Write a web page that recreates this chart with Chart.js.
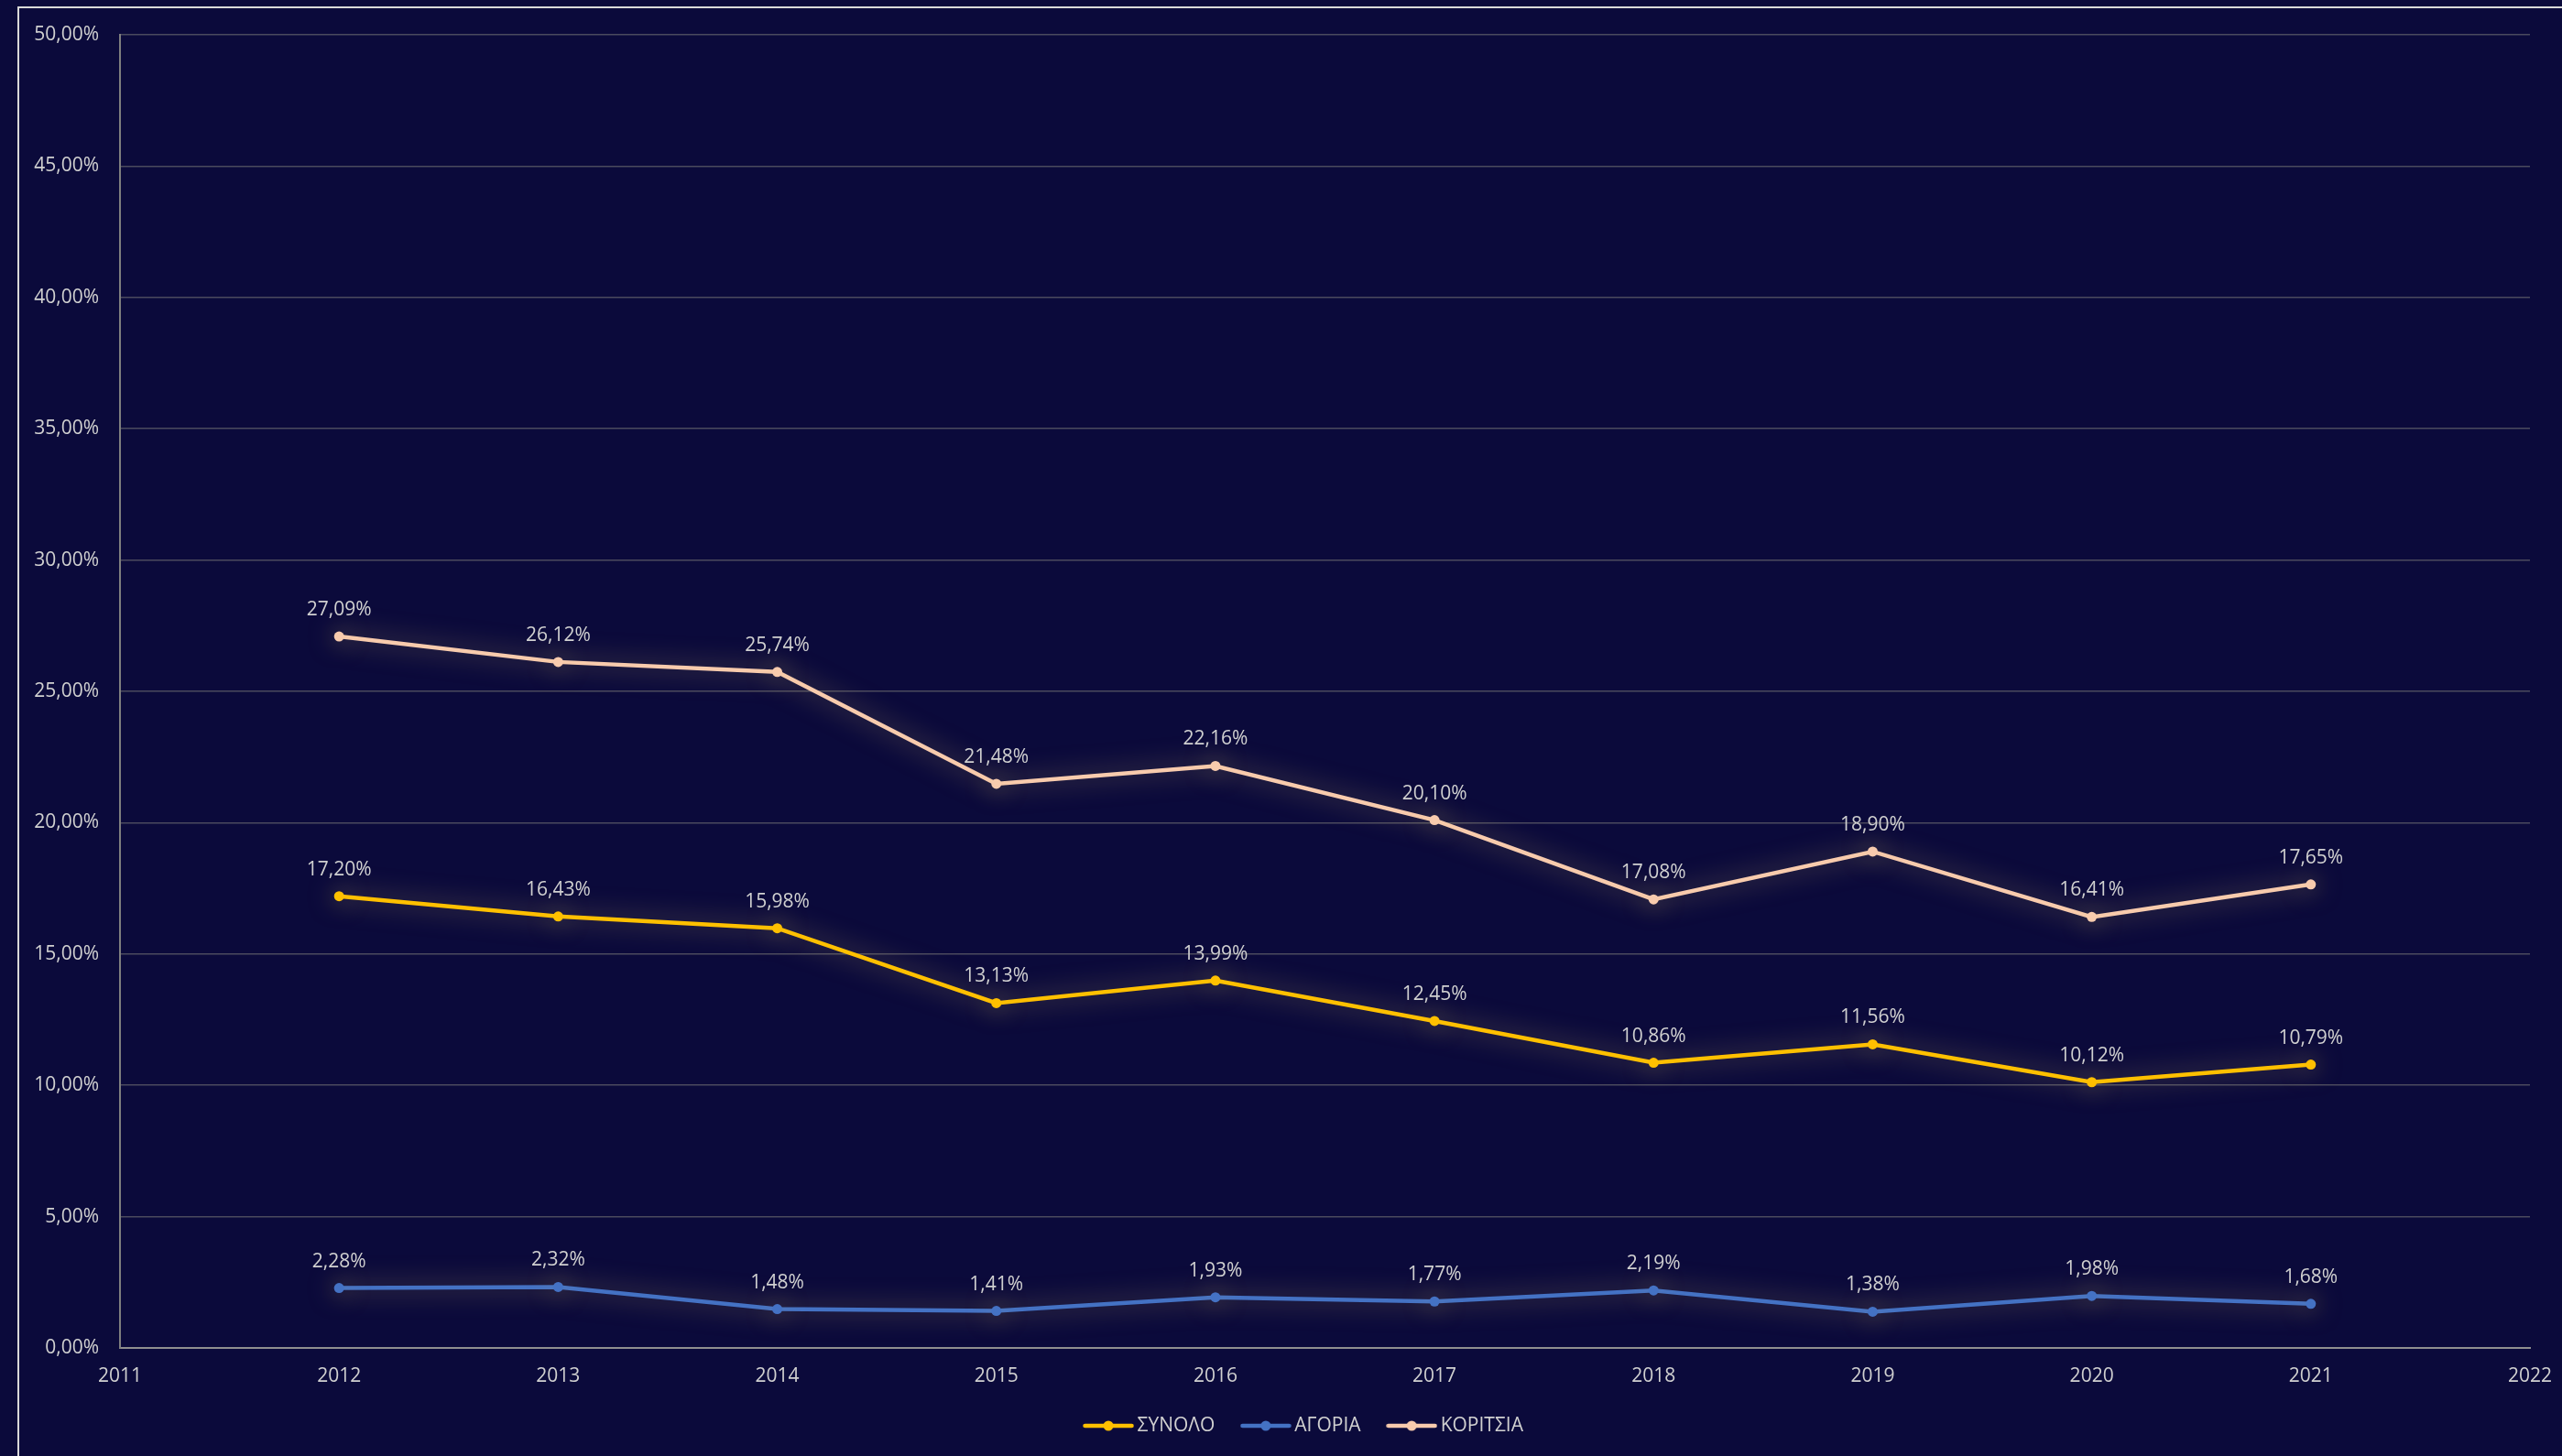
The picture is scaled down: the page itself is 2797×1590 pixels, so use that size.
<!DOCTYPE html>
<html>
<head>
<meta charset="utf-8">
<script src="https://cdn.jsdelivr.net/npm/chart.js@4.4.1/dist/chart.umd.min.js"></script>
<style>
html,body{margin:0;padding:0;background:#0b0a3b;overflow:hidden;width:2797px;height:1590px;}
#wrap{position:absolute;left:0;top:0;width:2797px;height:1590px;}
#frame{position:absolute;left:19px;top:7px;width:2820px;height:1620px;border-left:2px solid #d9d9d9;border-top:2px solid #d9d9d9;pointer-events:none;}
</style>
</head>
<body>
<div id="wrap"><canvas id="c" width="2797" height="1590"></canvas></div>
<div id="frame"></div>
<script>
// ---- data ----
const years = [2012, 2013, 2014, 2015, 2016, 2017, 2018, 2019, 2020, 2021];
const xMin = 2011;
const xMax = 2022;
const yMin = 0;
const yMax = 50;
const yStep = 5;
const seriesNames = ['ΣΥΝΟΛΟ', 'ΑΓΟΡΙΑ', 'ΚΟΡΙΤΣΙΑ'];
const synolo   = [17.20, 16.43, 15.98, 13.13, 13.99, 12.45, 10.86, 11.56, 10.12, 10.79];
const agoria   = [2.28, 2.32, 1.48, 1.41, 1.93, 1.77, 2.19, 1.38, 1.98, 1.68];
const koritsia = [27.09, 26.12, 25.74, 21.48, 22.16, 20.10, 17.08, 18.90, 16.41, 17.65];
const seriesColors = ['#FFC000', '#4472C4', '#F8CBAD'];

// ---- helpers ----
const FONT = '"Open Sans", "Noto Sans", sans-serif';
const TEXT = '#d0d0d0';
const LEGEND_SHIFT = 45; // the original chart frame extends past the right edge
function fmtPct(v) { return v.toFixed(2).replace('.', ',') + '%'; }
function toPoints(arr) { return arr.map((v, i) => ({ x: years[i], y: v })); }

function legendIcon(color) {
  const c = document.createElement('canvas');
  c.width = 56; c.height = 14;
  const g = c.getContext('2d');
  g.strokeStyle = color; g.lineWidth = 4.5; g.lineCap = 'round';
  g.beginPath(); g.moveTo(2.5, 7); g.lineTo(53.5, 7); g.stroke();
  g.fillStyle = color;
  g.beginPath(); g.arc(28, 7, 5.5, 0, Math.PI * 2); g.fill();
  return c;
}

const glowPlugin = {
  id: 'glow',
  beforeDatasetDraw(chart) {
    const ctx = chart.ctx;
    ctx.save();
    ctx.shadowColor = 'rgba(225, 195, 110, 0.62)';
    ctx.shadowBlur = 28;
  },
  afterDatasetDraw(chart) { chart.ctx.restore(); }
};

const legendShift = {
  id: 'legendShift',
  afterLayout(chart) {
    if (chart.legend) {
      chart.legend.left += LEGEND_SHIFT;
      chart.legend.right += LEGEND_SHIFT;
    }
  }
};

const valueLabels = {
  id: 'valueLabels',
  afterDatasetsDraw(chart) {
    const ctx = chart.ctx;
    ctx.save();
    ctx.font = '21px ' + FONT;
    ctx.fillStyle = TEXT;
    ctx.textAlign = 'center';
    ctx.textBaseline = 'middle';
    chart.data.datasets.forEach((ds, i) => {
      const meta = chart.getDatasetMeta(i);
      meta.data.forEach((pt, j) => {
        ctx.fillText(fmtPct(ds.data[j].y), pt.x, pt.y - 29);
      });
    });
    ctx.restore();
  }
};

const seriesData = [synolo, agoria, koritsia];
const datasets = seriesNames.map((name, i) => ({
  label: name,
  data: toPoints(seriesData[i]),
  borderColor: seriesColors[i],
  backgroundColor: seriesColors[i],
  borderWidth: 4.5,
  pointRadius: 5.5,
  pointHoverRadius: 5.5,
  pointBorderWidth: 0,
  pointBackgroundColor: seriesColors[i],
  tension: 0,
  fill: false
}));

new Chart(document.getElementById('c'), {
  type: 'line',
  data: { datasets },
  plugins: [glowPlugin, valueLabels, legendShift],
  options: {
    responsive: false,
    animation: false,
    devicePixelRatio: 1,
    layout: { padding: { left: 0, top: 38, right: 35, bottom: 12.5 } },
    plugins: {
      tooltip: { enabled: false },
      legend: {
        position: 'bottom',
        labels: {
          color: TEXT,
          font: { family: FONT, size: 21 },
          usePointStyle: true,
          pointStyleWidth: 42,
          padding: 34.5,
          generateLabels(chart) {
            return chart.data.datasets.map((ds, i) => ({
              text: ds.label,
              fontColor: TEXT,
              pointStyle: legendIcon(seriesColors[i]),
              datasetIndex: i,
              hidden: false,
              lineWidth: 0,
              strokeStyle: 'transparent',
              fillStyle: 'transparent'
            }));
          }
        }
      }
    },
    scales: {
      x: {
        type: 'linear',
        min: xMin,
        max: xMax,
        grid: { display: false, drawTicks: false },
        border: { display: true, color: '#8f8f8f', width: 2 },
        ticks: {
          stepSize: 1,
          color: TEXT,
          font: { family: FONT, size: 21 },
          padding: 18,
          maxRotation: 0,
          callback: (v) => String(v)
        },
        afterFit(scale) { scale.height = 40; scale.paddingLeft = 0; scale.paddingRight = 0; }
      },
      y: {
        min: yMin,
        max: yMax,
        grid: { color: '#4b4a5e', lineWidth: 1.5, drawTicks: false },
        border: { display: true, color: '#7f7f7f', width: 2 },
        ticks: {
          stepSize: yStep,
          color: TEXT,
          font: { family: FONT, size: 21 },
          padding: 23,
          callback: (v) => fmtPct(v)
        },
        afterFit(scale) { scale.width = 131; scale.paddingTop = 0; scale.paddingBottom = 0; }
      }
    }
  }
});
</script>
</body>
</html>
